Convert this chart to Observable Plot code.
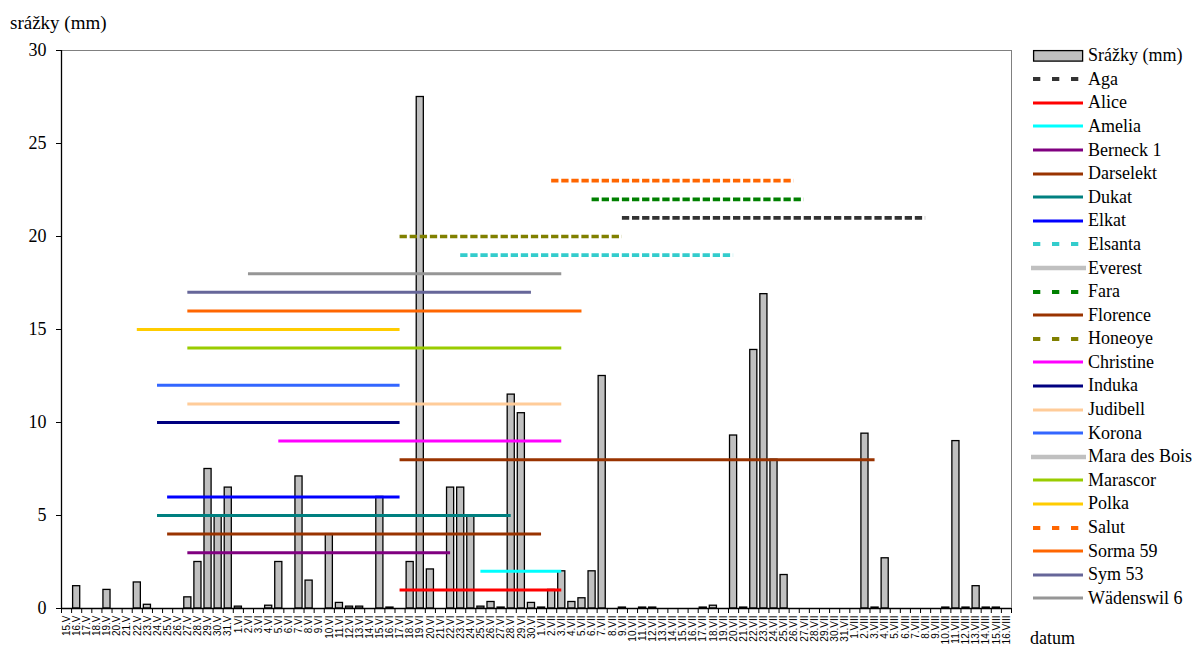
<!DOCTYPE html>
<html>
<head>
<meta charset="utf-8">
<script src="https://cdn.jsdelivr.net/npm/d3@7"></script>
<script src="https://cdn.jsdelivr.net/npm/@observablehq/plot@0.6"></script>
<style>
  html, body { margin: 0; padding: 0; background: #fff; }
  #wrap { position: relative; width: 1202px; height: 650px; overflow: hidden;
          font-family: "Liberation Serif", "Times New Roman", serif; color: #000; }
  #chart { position: absolute; left: 0; top: 0; }
  #ytitle { position: absolute; left: 10px; top: 12px; font-size: 19px; line-height: normal; white-space: nowrap; }
  #datum { position: absolute; left: 1030px; top: 629px; font-size: 18px; line-height: 18px; }
  .row { position: absolute; left: 1030px; height: 24px; display: flex; align-items: center;
         font-size: 18px; white-space: nowrap; }
  .row svg { flex: none; margin-right: 2px; }
</style>
</head>
<body>
<div id="wrap">
  <div id="chart"></div>
  <div id="ytitle">srážky (mm)</div>
  <div id="datum">datum</div>
  <div id="legend"></div>
</div>
<script>
// Daily dates, 15 May – 16 August
const days = [
  "15.V","16.V","17.V","18.V","19.V","20.V","21.V","22.V","23.V","24.V","25.V","26.V","27.V","28.V","29.V","30.V","31.V",
  "1.VI","2.VI","3.VI","4.VI","5.VI","6.VI","7.VI","8.VI","9.VI","10.VI","11.VI","12.VI","13.VI","14.VI","15.VI",
  "16.VI","17.VI","18.VI","19.VI","20.VI","21.VI","22.VI","23.VI","24.VI","25.VI","26.VI","27.VI","28.VI","29.VI","30.VI",
  "1.VII","2.VII","3.VII","4.VII","5.VII","6.VII","7.VII","8.VII","9.VII","10.VII","11.VII","12.VII","13.VII","14.VII","15.VII",
  "16.VII","17.VII","18.VII","19.VII","20.VII","21.VII","22.VII","23.VII","24.VII","25.VII","26.VII","27.VII","28.VII","29.VII","30.VII","31.VII",
  "1.VIII","2.VIII","3.VIII","4.VIII","5.VIII","6.VIII","7.VIII","8.VIII","9.VIII","10.VIII","11.VIII","12.VIII","13.VIII","14.VIII","15.VIII","16.VIII"
];

// Daily precipitation (mm), one value per day above
const rain = [
  0, 1.2, 0, 0, 1.0, 0, 0, 1.4, 0.2, 0, 0, 0, 0.6, 2.5, 7.5, 5.0, 6.5,
  0.1, 0, 0, 0.15, 2.5, 0, 7.1, 1.5, 0, 4.0, 0.3, 0.1, 0.1, 0, 6.0,
  0.05, 0, 2.5, 27.5, 2.1, 0, 6.5, 6.5, 5.0, 0.1, 0.35, 0.05, 11.5, 10.5, 0.3,
  0.05, 1.0, 2.0, 0.35, 0.55, 2.0, 12.5, 0, 0.05, 0, 0.05, 0.05, 0, 0, 0,
  0, 0.05, 0.15, 0, 9.3, 0.05, 13.9, 16.9, 8.0, 1.8, 0, 0, 0, 0, 0, 0,
  0, 9.4, 0.05, 2.7, 0, 0, 0, 0, 0, 0.05, 9.0, 0.05, 1.2, 0.05, 0.05, 0
];

// Cultivars: level on the chart, first and last day of the period
const cultivars = ["Aga","Alice","Amelia","Berneck 1","Darselekt","Dukat","Elkat","Elsanta","Everest","Fara",
  "Florence","Honeoye","Christine","Induka","Judibell","Korona","Mara des Bois","Marascor","Polka","Salut",
  "Sorma 59","Sym 53","Wädenswil 6"];
const levels = [21, 1, 2, 3, 4, 5, 6, 19, null, 22, 8, 20, 9, 10, 11, 12, null, 14, 15, 23, 16, 17, 18];
const startDays = ["9.VII","17.VI","25.VI","27.V","25.V","24.V","25.V","23.VI",null,"6.VII",
  "17.VI","17.VI","5.VI","24.V","27.V","24.V",null,"27.V","22.V","2.VII","27.V","27.V","2.VI"];
const endDays = ["8.VIII","3.VII","3.VII","22.VI","1.VII","28.VI","17.VI","20.VII",null,"27.VII",
  "3.VIII","9.VII","3.VII","17.VI","3.VII","17.VI",null,"3.VII","17.VI","26.VII","5.VII","30.VI","3.VII"];

// Line styles per cultivar
const colors = ["#333333","#FF0000","#00FFFF","#800080","#993300","#008080","#0000FF","#33CCCC","#C0C0C0","#008000",
  "#993300","#808000","#FF00FF","#000080","#FFCC99","#3366FF","#C0C0C0","#99CC00","#FFCC00","#FF6600",
  "#FF6600","#666699","#969696"];
const dashed = [true,false,false,false,false,false,false,true,false,true,
  false,true,false,false,false,false,false,false,false,true,false,false,false];
const wide = cultivars.map(c => c === "Everest" || c === "Mara des Bois");

const rainData = rain.map((v, i) => ({i, v})).filter(d => d.v > 0);
const periods = cultivars.map((name, k) => ({
  name, level: levels[k], color: colors[k], dashed: dashed[k],
  i0: startDays[k] == null ? null : days.indexOf(startDays[k]),
  i1: endDays[k] == null ? null : days.indexOf(endDays[k])
})).filter(d => d.level != null);

const n = days.length;

const chart = Plot.plot({
  width: 1202,
  height: 650,
  marginLeft: 61,
  marginRight: 191,
  marginTop: 50,
  marginBottom: 42,
  style: {fontFamily: "'Liberation Serif', 'Times New Roman', serif", background: "transparent", color: "#000"},
  x: {domain: [0, n], axis: null},
  y: {domain: [0, 30], axis: null},
  color: {type: "identity"},
  marks: [
    // plot-area border (top and right)
    Plot.ruleY([30], {stroke: "#808080", strokeWidth: 1}),
    Plot.ruleX([n], {stroke: "#808080", strokeWidth: 1}),
    // precipitation bars
    Plot.rectY(rainData, {
      x1: "i", x2: d => d.i + 1, y: "v",
      fill: "#C0C0C0", stroke: "#000", strokeWidth: 1.3,
      insetLeft: 1.5, insetRight: 1.5
    }),
    // axes
    Plot.ruleY([0], {stroke: "#000", strokeWidth: 1.3}),
    Plot.ruleX([0], {stroke: "#000", strokeWidth: 1.3}),
    Plot.axisY({
      ticks: [0, 5, 10, 15, 20, 25, 30], tickSize: 5, tickPadding: 10,
      fontSize: 18, label: null, stroke: "#000"
    }),
    Plot.axisX({
      ticks: d3.range(n + 1), tickSize: 5, tickFormat: () => "", label: null, stroke: "#000"
    }),
    Plot.axisX({
      ticks: d3.range(n).map(i => i + 0.5), tickSize: 0, tickPadding: 7,
      tickFormat: t => days[Math.floor(t)], tickRotate: -90,
      fontSize: 10, fontFamily: "'Liberation Sans', Arial, sans-serif", label: null
    }),
    // flowering periods of the cultivars
    Plot.ruleY(periods.filter(d => !d.dashed), {
      y: "level", x1: d => d.i0 + 0.5, x2: d => d.i1 + 0.5,
      stroke: "color", strokeWidth: 3
    }),
    Plot.ruleY(periods.filter(d => d.dashed), {
      y: "level", x1: d => d.i0 + 0.5, x2: d => d.i1 + 0.5,
      stroke: "color", strokeWidth: 3.7, strokeDasharray: "7.3 2.8"
    })
  ]
});
document.getElementById("chart").appendChild(chart);

// Legend
const legend = document.getElementById("legend");
const rowTop = 55.7, rowStep = 23.59;
const entries = [{label: "Srážky (mm)", kind: "bar"}].concat(
  cultivars.map((c, k) => ({label: c, kind: "line", color: colors[k], dashed: dashed[k], wide: wide[k]}))
);
entries.forEach((e, k) => {
  const row = document.createElement("div");
  row.className = "row";
  row.style.top = (rowTop + k * rowStep - 12) + "px";
  let sw;
  if (e.kind === "bar") {
    sw = `<svg width="56" height="14"><rect x="3.6" y="1.6" width="49" height="10.5" fill="#C0C0C0" stroke="#000" stroke-width="1.3"/></svg>`;
  } else if (e.dashed) {
    sw = `<svg width="56" height="14"><line x1="3" x2="53" y1="7" y2="7" stroke="${e.color}" stroke-width="4" stroke-dasharray="7.3 11.7"/></svg>`;
  } else if (e.wide) {
    sw = `<svg width="56" height="14"><line x1="1" x2="56" y1="7" y2="7" stroke="${e.color}" stroke-width="4.7"/></svg>`;
  } else {
    sw = `<svg width="56" height="14"><line x1="3" x2="53" y1="7" y2="7" stroke="${e.color}" stroke-width="3"/></svg>`;
  }
  row.innerHTML = sw + `<span>${e.label}</span>`;
  legend.appendChild(row);
});
</script>
</body>
</html>
